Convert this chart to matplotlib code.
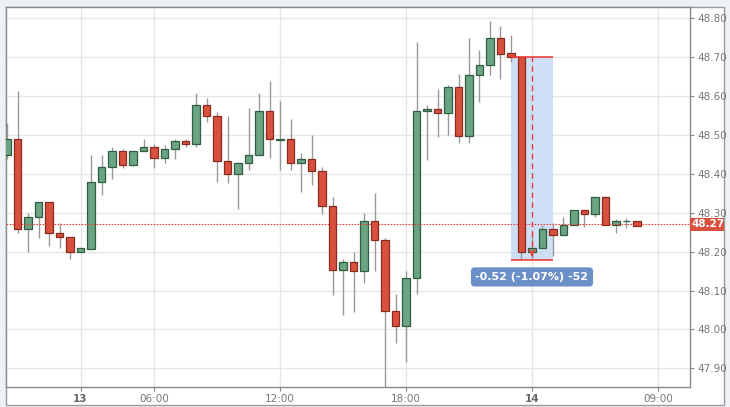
import matplotlib
matplotlib.use("Agg")
import matplotlib.pyplot as plt
from matplotlib.patches import Rectangle

# 30-minute candles
opens = [48.448, 48.489, 48.258, 48.289, 48.328, 48.247, 48.238, 48.198, 48.208, 48.378,
         48.417, 48.458, 48.424, 48.458, 48.468, 48.442, 48.463, 48.484, 48.477, 48.578,
         48.548, 48.433, 48.400, 48.429, 48.448, 48.561, 48.488, 48.489, 48.429, 48.438,
         48.408, 48.318, 48.153, 48.174, 48.149, 48.278, 48.230, 48.047, 48.009, 48.133,
         48.561, 48.568, 48.556, 48.624, 48.497, 48.653, 48.679, 48.749, 48.710, 48.701,
         48.198, 48.209, 48.259, 48.242, 48.268, 48.307, 48.298, 48.340, 48.268, 48.278,
         48.278]
highs = [48.532, 48.614, 48.299, 48.328, 48.328, 48.274, 48.238, 48.209, 48.449, 48.449,
         48.468, 48.463, 48.458, 48.489, 48.477, 48.473, 48.489, 48.489, 48.608, 48.594,
         48.558, 48.548, 48.431, 48.569, 48.608, 48.639, 48.587, 48.540, 48.454, 48.499,
         48.418, 48.340, 48.180, 48.200, 48.299, 48.350, 48.234, 48.090, 48.149, 48.738,
         48.577, 48.617, 48.629, 48.658, 48.749, 48.718, 48.794, 48.779, 48.758, 48.701,
         48.256, 48.268, 48.273, 48.288, 48.307, 48.307, 48.340, 48.344, 48.283, 48.286,
         48.278]
lows = [48.439, 48.249, 48.200, 48.235, 48.214, 48.210, 48.180, 48.198, 48.208, 48.345,
        48.388, 48.414, 48.419, 48.458, 48.414, 48.427, 48.439, 48.470, 48.468, 48.533,
        48.380, 48.376, 48.309, 48.410, 48.448, 48.440, 48.410, 48.410, 48.354, 48.371,
        48.296, 48.089, 48.037, 48.045, 48.120, 48.150, 47.853, 47.964, 47.917, 48.091,
        48.436, 48.496, 48.500, 48.479, 48.479, 48.584, 48.655, 48.643, 48.688, 48.180,
        48.180, 48.209, 48.189, 48.242, 48.268, 48.264, 48.290, 48.268, 48.249, 48.260,
        48.267]
closes = [48.489, 48.258, 48.289, 48.328, 48.247, 48.238, 48.198, 48.209, 48.378, 48.417,
          48.458, 48.424, 48.458, 48.468, 48.442, 48.463, 48.484, 48.477, 48.578, 48.548,
          48.433, 48.400, 48.429, 48.448, 48.561, 48.489, 48.490, 48.429, 48.438, 48.408,
          48.318, 48.153, 48.174, 48.149, 48.278, 48.230, 48.047, 48.009, 48.133, 48.561,
          48.568, 48.556, 48.624, 48.497, 48.653, 48.679, 48.749, 48.708, 48.701, 48.198,
          48.209, 48.259, 48.242, 48.268, 48.307, 48.298, 48.340, 48.268, 48.278, 48.279,
          48.267]

tick_pos = [7, 14, 26, 38, 50, 62]
tick_labels = ["13", "06:00", "12:00", "18:00", "14", "09:00"]
price_ticks = [47.90, 48.00, 48.10, 48.20, 48.30, 48.40, 48.50, 48.60, 48.70, 48.80]
last_price = 48.27

# measurement tool
meas_start, meas_end = 48, 52
meas_hi, meas_lo = 48.701, 48.178
meas_label = "-0.52 (-1.07%) -52"

UP = "#6aa483"
UP_EDGE = "#2f5f40"
DOWN = "#d9503f"
DOWN_EDGE = "#8a2a1f"
WICK = "#999999"

fig = plt.figure(figsize=(7.3, 4.07), dpi=100)
fig.patch.set_facecolor("#eef2f6")
# white panel behind chart + axis labels
fig.patches.append(Rectangle((6 / 730, 2 / 407), 718 / 730, 398 / 407, transform=fig.transFigure,
                             facecolor="white", edgecolor="#9a9a9a", linewidth=1.0, zorder=-5))

ax = fig.add_axes([6 / 730, 1 - 387 / 407, 684 / 730, 380 / 407])
ax.set_zorder(2)
ax.set_facecolor("white")

for i in range(len(opens)):
    o, h, l, c = opens[i], highs[i], lows[i], closes[i]
    up = c >= o
    ax.vlines(i, l, h, color=WICK, linewidth=1.0, zorder=2)
    body = max(abs(c - o), 0.0015)
    ax.add_patch(Rectangle((i - 0.35, min(o, c)), 0.7, body,
                           facecolor=UP if up else DOWN,
                           edgecolor=UP_EDGE if up else DOWN_EDGE,
                           linewidth=0.9, zorder=3))

# last price line
ax.axhline(last_price, color="#e0453a", linestyle=(0, (1.5, 1.2)), linewidth=0.8, zorder=4)

# measurement box
ax.add_patch(Rectangle((meas_start, meas_lo), meas_end - meas_start, meas_hi - meas_lo,
                       facecolor="#c9dcf5", edgecolor="none", alpha=0.9, zorder=1))
ax.hlines([meas_hi, meas_lo], meas_start, meas_end, color="#f03c3c", linewidth=1.2, zorder=5)
mid = (meas_start + meas_end) / 2
ax.vlines(mid, meas_lo + 0.012, meas_hi, color="#f03c3c", linestyle=(0, (4, 3)), linewidth=1.0, zorder=5)
ax.annotate("", xy=(mid, meas_lo + 0.002), xytext=(mid, meas_lo + 0.03),
            arrowprops=dict(arrowstyle="->", color="#f03c3c", lw=1.0), zorder=5)
ax.text(mid, 48.135, meas_label, ha="center", va="center", color="white", fontsize=8,
        fontweight="bold", zorder=6,
        bbox=dict(boxstyle="round,pad=0.35,rounding_size=0.3", facecolor="#6b8fc7", edgecolor="#6b8fc7"))

ax.set_xlim(-0.1, 65.05)
ax.set_ylim(47.852, 48.829)
ax.set_xticks(tick_pos)
ax.set_xticklabels(tick_labels)
ax.set_yticks(price_ticks)
ax.set_yticklabels([f"{p:.2f}" for p in price_ticks])
ax.yaxis.tick_right()
ax.grid(True, color="#e6e6e6", linewidth=1.0, zorder=0)
ax.set_axisbelow(True)
ax.tick_params(axis="both", labelsize=7.5, colors="#888888", length=3, width=0.8,
               labelcolor="#777777", pad=2)
for lbl in ax.get_xticklabels():
    if lbl.get_text() in ("13", "14"):
        lbl.set_fontweight("bold")
        lbl.set_color("#666666")
for s in ax.spines.values():
    s.set_color("#8a8a8a")
    s.set_linewidth(1.0)

# last price tag on the axis (fixed width box, 690..724 px)
ytrans = ax.get_yaxis_transform()
ax.add_patch(Rectangle((1.0, last_price - 0.016), 34 / 684, 0.032, transform=ytrans,
                       facecolor="#d9503f", edgecolor="none", zorder=7, clip_on=False))
ax.text(1.0 + 18 / 684, last_price, f"{last_price:.2f}", transform=ytrans,
        ha="center", va="center", color="white", fontsize=7.5, fontweight="bold", zorder=8,
        clip_on=False)

fig.savefig("out.png", dpi=100, facecolor=fig.get_facecolor())
